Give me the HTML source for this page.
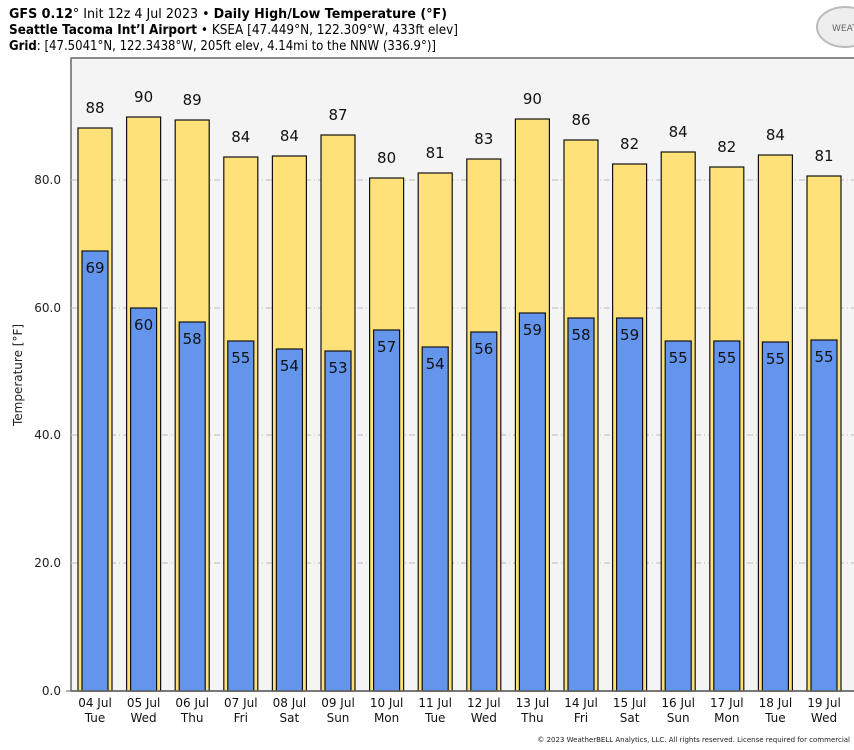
<!DOCTYPE html>
<html><head><style>body{margin:0;background:#fff}svg{display:block}text{font-family:"DejaVu Sans","Liberation Sans",sans-serif}</style></head>
<body>
<svg width="854" height="750" xmlns="http://www.w3.org/2000/svg">
<text x="9" y="18" font-size="13" textLength="438" lengthAdjust="spacingAndGlyphs"><tspan font-weight="bold">GFS 0.12</tspan>° Init 12z 4 Jul 2023 • <tspan font-weight="bold">Daily High/Low Temperature (°F)</tspan></text>
<text x="9" y="34" font-size="13" textLength="449" lengthAdjust="spacingAndGlyphs"><tspan font-weight="bold">Seattle Tacoma Int’l Airport</tspan> • KSEA [47.449°N, 122.309°W, 433ft elev]</text>
<text x="9" y="50" font-size="13" textLength="427" lengthAdjust="spacingAndGlyphs"><tspan font-weight="bold">Grid</tspan>: [47.5041°N, 122.3438°W, 205ft elev, 4.14mi to the NNW (336.9°)]</text>
<ellipse cx="845" cy="27" rx="28" ry="20" fill="#eee" stroke="#bbb" stroke-width="2"/>
<text x="832" y="31" font-size="9" fill="#666" font-family="Liberation Serif">WEAT</text>
<rect x="71" y="58" width="790" height="633" fill="#f4f4f4" stroke="#666" stroke-width="1.5"/>
<g stroke="#bbb" stroke-dasharray="6,3,1,3" stroke-width="1">
<line x1="71" y1="180" x2="854" y2="180"/><line x1="71" y1="308" x2="854" y2="308"/><line x1="71" y1="435" x2="854" y2="435"/><line x1="71" y1="563" x2="854" y2="563"/></g>
<g font-size="12" fill="#222" text-anchor="end">
<text x="61" y="184">80.0</text><text x="61" y="312">60.0</text><text x="61" y="439">40.0</text><text x="61" y="567">20.0</text><text x="61" y="695">0.0</text></g>
<line x1="66" y1="691" x2="71" y2="691" stroke="#666"/>
<text transform="translate(22,375) rotate(-90)" font-size="12" text-anchor="middle" fill="#222">Temperature [°F]</text>
<g id="bars" stroke="#111" stroke-width="1.2"></g>
<line x1="71" y1="691" x2="854" y2="691" stroke="#666" stroke-width="1.5"/>
<g id="lbl" font-size="15" fill="#111" text-anchor="middle"></g>
<g id="xl" font-size="12" fill="#111" text-anchor="middle"></g>
<text x="850" y="742" font-size="7" text-anchor="end" fill="#222">© 2023 WeatherBELL Analytics, LLC. All rights reserved. License required for commercial</text>
</svg>
<script>
var hi=[88,90,89,84,84,87,80,81,83,90,86,82,84,82,84,81],
ht=[128,117,120,157,156,135,178,173,159,119,140,164,152,167,155,176],
lo=[69,60,58,55,54,53,57,54,56,59,58,59,55,55,55,55],
lt=[251,308,322,341,349,351,330,347,332,313,318,318,341,341,342,340],
d=["04 Jul","05 Jul","06 Jul","07 Jul","08 Jul","09 Jul","10 Jul","11 Jul","12 Jul","13 Jul","14 Jul","15 Jul","16 Jul","17 Jul","18 Jul","19 Jul"],
w=["Tue","Wed","Thu","Fri","Sat","Sun","Mon","Tue","Wed","Thu","Fri","Sat","Sun","Mon","Tue","Wed"];
var b="",l="",x="";
for(var i=0;i<16;i++){var c=95+i*48.6;
b+='<rect x="'+(c-17)+'" y="'+ht[i]+'" width="34" height="'+(691-ht[i])+'" fill="#ffe17a"/>';
b+='<rect x="'+(c-13)+'" y="'+lt[i]+'" width="26" height="'+(691-lt[i])+'" fill="#6495ed"/>';
l+='<text x="'+c+'" y="'+(ht[i]-15)+'">'+hi[i]+'</text><text x="'+c+'" y="'+(lt[i]+22)+'">'+lo[i]+'</text>';
x+='<text x="'+c+'" y="707">'+d[i]+'</text><text x="'+c+'" y="722">'+w[i]+'</text>';}
document.getElementById("bars").innerHTML=b;document.getElementById("lbl").innerHTML=l;document.getElementById("xl").innerHTML=x;
</script>
</body></html>
